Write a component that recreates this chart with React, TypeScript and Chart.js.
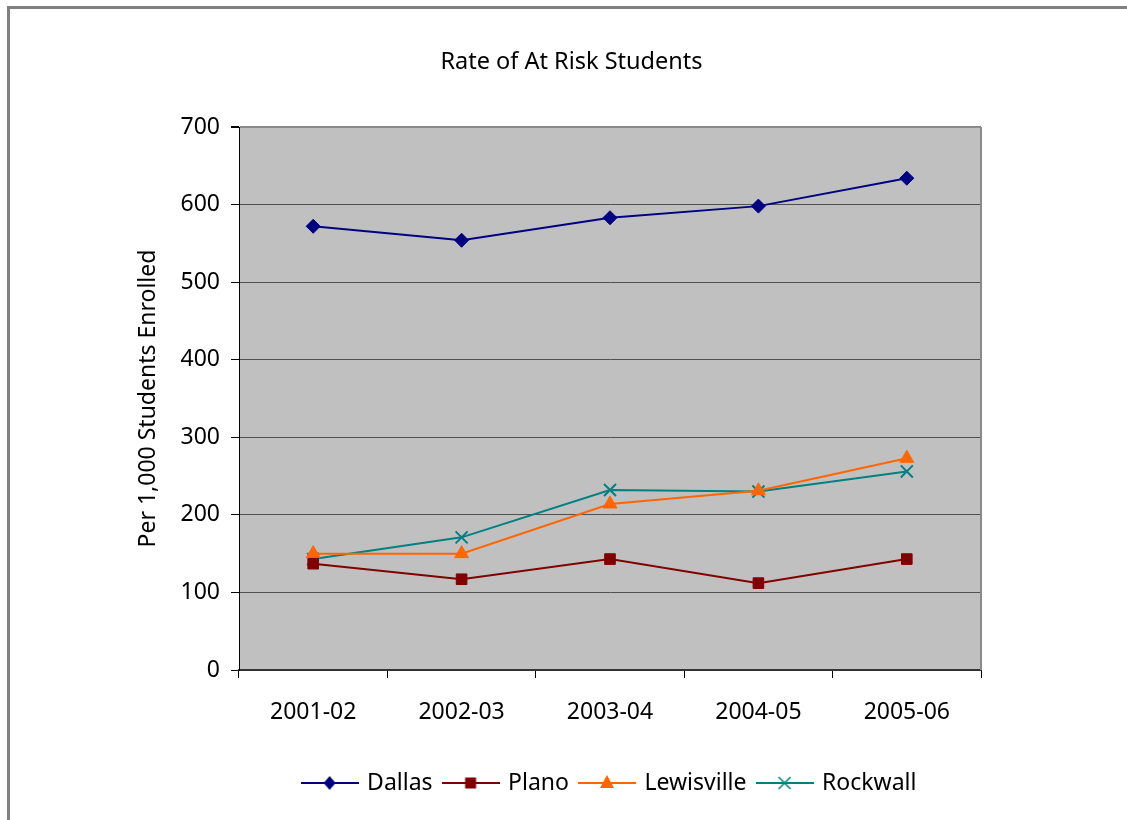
import React, { useEffect, useRef } from 'react';
import { Chart, registerables } from 'chart.js';

Chart.register(...registerables);

// School years on the category axis
const years = ['2001-02', '2002-03', '2003-04', '2004-05', '2005-06'];

// At-risk students per 1,000 enrolled, by district
const dallas = [572, 554, 583, 598, 634];
const plano = [137, 117, 143, 112, 143];
const lewisville = [150, 150, 214, 231, 273];
const rockwall = [143, 171, 232, 230, 256];

const seriesNames = ['Dallas', 'Plano', 'Lewisville', 'Rockwall'];
const seriesColors = ['#000080', '#800000', '#FF6600', '#008080'];

const FONT = "'Noto Sans', 'Open Sans', sans-serif";
const FS = 23;
const W = 1127;
const H = 820;

type Shape = 'diamond' | 'square' | 'triangle' | 'cross';

// Small "line through marker" swatch used as the legend symbol
function legendIcon(color: string, shape: Shape): HTMLCanvasElement {
  const c = document.createElement('canvas');
  c.width = 58;
  c.height = 20;
  const ctx = c.getContext('2d')!;
  ctx.strokeStyle = color;
  ctx.fillStyle = color;
  ctx.lineWidth = 2;
  ctx.beginPath();
  ctx.moveTo(0, 10);
  ctx.lineTo(58, 10);
  ctx.stroke();
  const cx = 29;
  const cy = 10;
  ctx.beginPath();
  if (shape === 'diamond') {
    ctx.moveTo(cx, cy - 7);
    ctx.lineTo(cx + 6, cy);
    ctx.lineTo(cx, cy + 7);
    ctx.lineTo(cx - 6, cy);
    ctx.closePath();
    ctx.fill();
  } else if (shape === 'square') {
    ctx.rect(cx - 5.5, cy - 5.5, 11, 11);
    ctx.fill();
  } else if (shape === 'triangle') {
    ctx.moveTo(cx, cy - 8);
    ctx.lineTo(cx + 7, cy + 5);
    ctx.lineTo(cx - 7, cy + 5);
    ctx.closePath();
    ctx.fill();
  } else {
    ctx.lineWidth = 1.5;
    ctx.moveTo(cx - 6, cy - 6);
    ctx.lineTo(cx + 6, cy + 6);
    ctx.moveTo(cx + 6, cy - 6);
    ctx.lineTo(cx - 6, cy + 6);
    ctx.stroke();
  }
  return c;
}

// Grey plot background and the right-hand frame edge
const plotFrame = {
  id: 'plotFrame',
  beforeDraw(chart: any) {
    const { ctx, chartArea } = chart;
    const { left, top, right, bottom } = chartArea;
    ctx.save();
    ctx.fillStyle = '#C0C0C0';
    ctx.fillRect(left, top, right - left, bottom - top);
    ctx.restore();
  },
  beforeDatasetsDraw(chart: any) {
    const { ctx, chartArea } = chart;
    const { top, right, bottom } = chartArea;
    ctx.save();
    ctx.strokeStyle = '#8a8a8a';
    ctx.lineWidth = 2;
    ctx.beginPath();
    ctx.moveTo(right, top);
    ctx.lineTo(right, bottom);
    ctx.stroke();
    ctx.restore();
  },
};

export default function App() {
  const canvasRef = useRef<HTMLCanvasElement | null>(null);

  useEffect(() => {
    const canvas = canvasRef.current;
    if (!canvas) return;

    const shapes: Shape[] = ['diamond', 'square', 'triangle', 'cross'];
    const icons = seriesColors.map((c, i) => legendIcon(c, shapes[i]));
    const values = [dallas, plano, lewisville, rockwall];
    const pointStyles = ['rectRot', 'rect', 'triangle', 'crossRot'];
    const radii = [7, 7.5, 8, 8.5];

    const chart = new Chart(canvas, {
      type: 'line',
      data: {
        labels: years,
        datasets: seriesNames.map((name, i) => ({
          label: name,
          data: values[i],
          borderColor: seriesColors[i],
          backgroundColor: seriesColors[i],
          borderWidth: 2,
          pointStyle: pointStyles[i] as any,
          pointRadius: radii[i],
          pointHoverRadius: radii[i],
          pointBorderWidth: i === 3 ? 2 : 1,
          pointBackgroundColor: seriesColors[i],
          pointBorderColor: seriesColors[i],
          tension: 0,
          yAxisID: 'y',
        })),
      },
      options: {
        responsive: false,
        animation: false,
        layout: { padding: { left: 16, right: 0, top: 0, bottom: 15.5 } },
        plugins: {
          title: {
            display: true,
            text: 'Rate of At Risk Students',
            color: '#000',
            font: { family: FONT, size: 23.5, weight: 'normal' },
            padding: { top: 48, bottom: 50.8 },
          },
          legend: {
            position: 'bottom',
            fullSize: false,
            labels: {
              usePointStyle: true,
              pointStyleWidth: 52,
              padding: 12,
              color: '#000',
              font: { family: FONT, size: FS },
              generateLabels: (ch: any) =>
                ch.data.datasets.map((ds: any, i: number) => ({
                  text: ds.label,
                  pointStyle: icons[i],
                  fillStyle: ds.borderColor,
                  strokeStyle: ds.borderColor,
                  lineWidth: 0,
                  hidden: false,
                  datasetIndex: i,
                  fontColor: '#000',
                })),
            },
          },
          tooltip: { enabled: false },
        },
        scales: {
          x: {
            offset: true,
            grid: {
              offset: true,
              drawOnChartArea: false,
              drawTicks: true,
              tickLength: 8,
              tickColor: '#000',
            },
            border: { color: '#333', width: 2 },
            ticks: {
              color: '#000',
              font: { family: FONT, size: FS },
              padding: 21,
              maxRotation: 0,
            },
            afterFit: (s: any) => {
              s.height = 89.5;
            },
          },
          y: {
            position: 'left',
            min: 0,
            max: 700,
            ticks: {
              stepSize: 100,
              color: '#000',
              font: { family: FONT, size: FS },
              padding: 11,
            },
            grid: {
              color: (c: any) => (c.tick && c.tick.value === 700 ? '#8a8a8a' : '#505050'),
              lineWidth: (c: any) => (c.tick && c.tick.value === 700 ? 2 : 1),
              tickColor: '#000',
              tickLength: 8,
              drawTicks: true,
            },
            border: { color: '#000', width: 1 },
            title: {
              display: true,
              text: 'Per 1,000 Students Enrolled',
              color: '#000',
              font: { family: FONT, size: FS },
              padding: { top: 118.2, bottom: 0 },
            },
            afterFit: (s: any) => {
              s.width = 223;
            },
          },
          yRight: {
            position: 'right',
            display: true,
            grid: { display: false, drawTicks: false },
            ticks: { display: false },
            border: { display: false },
            afterFit: (s: any) => {
              s.width = 146;
            },
          },
        },
      },
      plugins: [plotFrame],
    });

    return () => chart.destroy();
  }, []);

  return (
    <div
      style={{
        position: 'fixed',
        left: 0,
        top: 0,
        width: W,
        height: H,
        overflow: 'hidden',
        background: '#fff',
      }}
    >
      <div
        style={{
          position: 'absolute',
          left: 7,
          top: 6,
          width: 2000,
          height: 2000,
          borderLeft: '3px solid #808080',
          borderTop: '3px solid #808080',
        }}
      />
      <canvas
        ref={canvasRef}
        width={W}
        height={H}
        style={{ position: 'absolute', left: 0, top: 0, width: W, height: H }}
      />
    </div>
  );
}
